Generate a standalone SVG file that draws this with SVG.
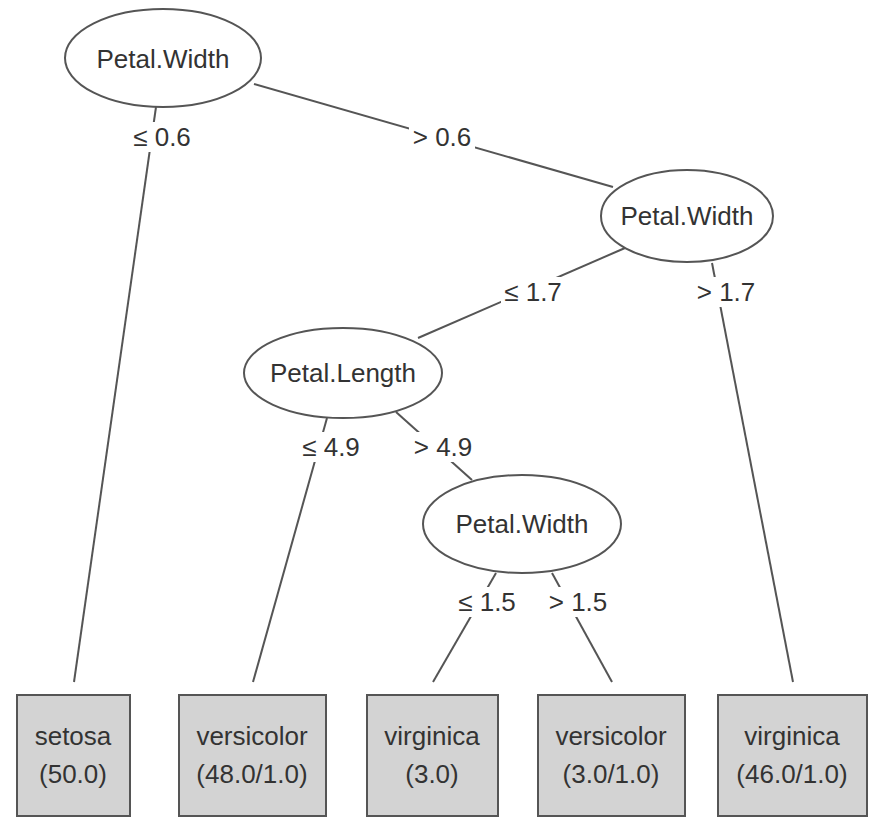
<svg xmlns="http://www.w3.org/2000/svg" width="872" height="818" viewBox="0 0 872 818">
<style>
text{font-family:"Liberation Sans",Arial,sans-serif;font-size:26px;fill:#333;text-anchor:middle}
.n ellipse{fill:#fff;stroke:#555;stroke-width:2}
.n rect{fill:#d3d3d3;stroke:#555;stroke-width:2}
.e line{stroke:#555;stroke-width:2}
.e rect{fill:#fff}
</style>
<rect width="872" height="818" fill="#fff"/>
<g id="edges" class="e">
<line x1="156" y1="107" x2="74" y2="682"/>
<rect x="130" y="122" width="64" height="30"/>
<text x="162" y="146">≤ 0.6</text>
<line x1="254" y1="84" x2="613" y2="187"/>
<rect x="409" y="122" width="66" height="30"/>
<text x="442" y="146">&gt; 0.6</text>
<line x1="625" y1="248" x2="418" y2="338"/>
<rect x="501" y="277" width="64" height="30"/>
<text x="533" y="301">≤ 1.7</text>
<line x1="712" y1="263" x2="793" y2="682"/>
<rect x="694" y="277" width="64" height="30"/>
<text x="726" y="301">&gt; 1.7</text>
<line x1="327" y1="418" x2="253" y2="682"/>
<rect x="299" y="432" width="64" height="30"/>
<text x="331" y="456">≤ 4.9</text>
<line x1="396" y1="412" x2="472" y2="480"/>
<rect x="410" y="432" width="66" height="30"/>
<text x="443" y="456">&gt; 4.9</text>
<line x1="496" y1="573" x2="433" y2="682"/>
<rect x="455" y="587" width="64" height="30"/>
<text x="487" y="611">≤ 1.5</text>
<line x1="552" y1="573" x2="612" y2="682"/>
<rect x="545" y="587" width="66" height="30"/>
<text x="578" y="611">&gt; 1.5</text>
</g>
<g id="n1" class="n"><ellipse cx="163" cy="58" rx="98" ry="49"/><text x="163" y="68">Petal.Width</text></g>
<g id="n2" class="n"><ellipse cx="687" cy="216" rx="86" ry="46"/><text x="687" y="225">Petal.Width</text></g>
<g id="n3" class="n"><ellipse cx="343" cy="373" rx="99" ry="45"/><text x="343" y="382">Petal.Length</text></g>
<g id="n4" class="n"><ellipse cx="522" cy="524" rx="99" ry="49"/><text x="522" y="533">Petal.Width</text></g>
<g id="l1" class="n"><rect x="17" y="695" width="113" height="121"/><text x="73" y="745">setosa</text><text x="73" y="783">(50.0)</text></g>
<g id="l2" class="n"><rect x="179" y="695" width="147" height="121"/><text x="252" y="745">versicolor</text><text x="252" y="783">(48.0/1.0)</text></g>
<g id="l3" class="n"><rect x="367" y="695" width="131" height="121"/><text x="432" y="745">virginica</text><text x="432" y="783">(3.0)</text></g>
<g id="l4" class="n"><rect x="538" y="695" width="147" height="121"/><text x="611" y="745">versicolor</text><text x="611" y="783">(3.0/1.0)</text></g>
<g id="l5" class="n"><rect x="718" y="695" width="149" height="121"/><text x="792" y="745">virginica</text><text x="792" y="783">(46.0/1.0)</text></g>
</svg>
